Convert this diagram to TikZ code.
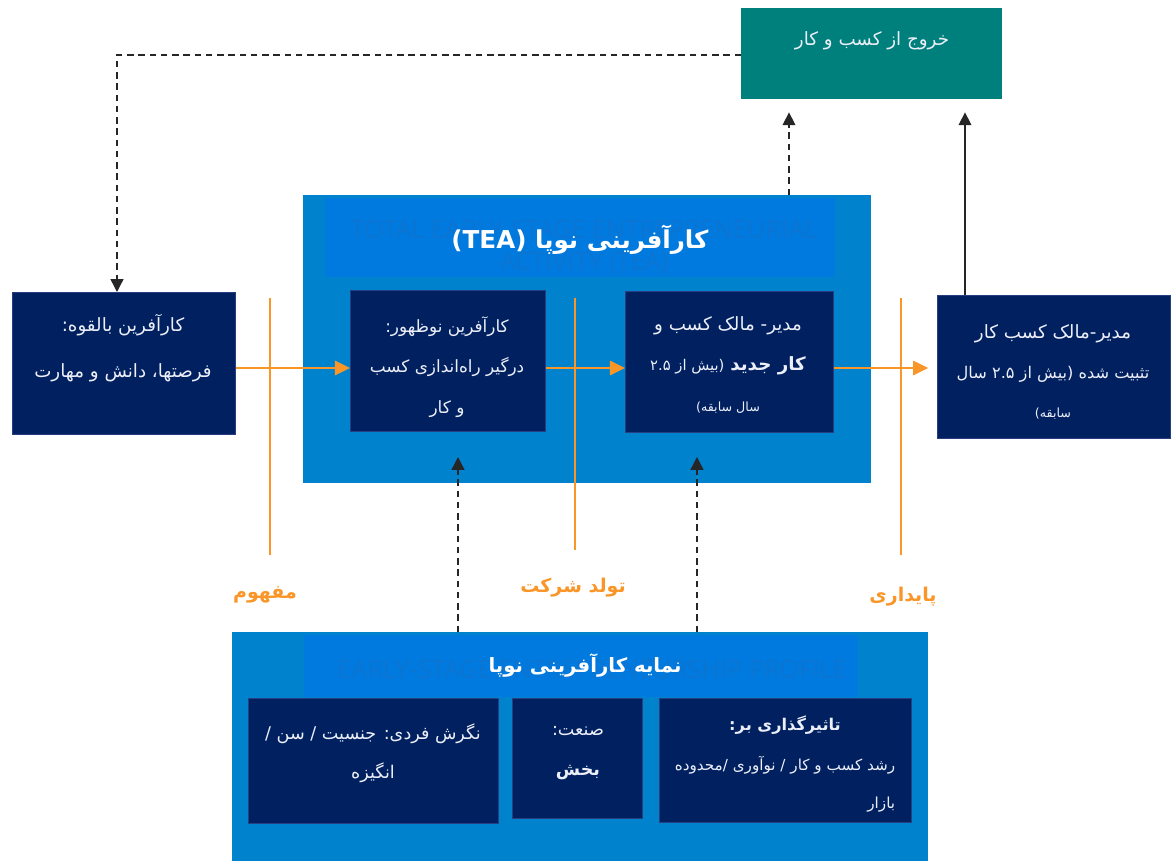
\documentclass[tikz,border=0pt]{standalone}
\usepackage{fontspec}
\setmainfont{DejaVu Sans}
\newfontfamily\fa[Script=Arabic]{DejaVu Sans}
\newfontfamily\wmfont{Open Sans}
\TeXXeTstate=1
\usetikzlibrary{arrows.meta}
\definecolor{navyc}{RGB}{0,32,96}
\definecolor{navyedge}{RGB}{40,62,130}
\definecolor{teac}{RGB}{0,130,204}
\definecolor{bandc}{RGB}{0,122,222}
\definecolor{wmc}{RGB}{12,116,210}
\definecolor{tealc}{RGB}{0,128,124}
\definecolor{orangec}{RGB}{250,150,40}
\definecolor{txtc}{RGB}{236,239,248}
\newcommand{\RL}[1]{{\fa\beginR #1\endR}}
\begin{document}
\begin{tikzpicture}[x=0.025cm,y=-0.025cm,
  boxbase/.style={inner sep=0pt, anchor=north west},
  navybox/.style={boxbase, fill=navyc, draw=navyedge, line width=0.6pt},
  teabox/.style={boxbase, fill=teac},
  bandbox/.style={boxbase, fill=bandc},
  exitbox/.style={boxbase, fill=tealc},
  btext/.style={text=txtc, align=center, inner sep=0pt, font=\fa\fontsize{13}{30}\selectfont},
  wmtext/.style={text=wmc, align=center, inner sep=0pt, font=\wmfont\fontsize{18}{23}\selectfont},
  olab/.style={text=orangec, inner sep=0pt, font=\fa\bfseries\fontsize{13.5}{16}\selectfont},
  ovline/.style={draw=orangec, line width=2pt},
  oarrow/.style={draw=orangec, line width=1.5pt, -{Triangle[length=0.38cm,width=0.36cm]}},
  darr/.style={draw=black!85, line width=1pt, dash pattern=on 4.5pt off 3.5pt, -{Triangle[length=0.32cm,width=0.32cm]}},
  sarr/.style={draw=black!85, line width=1pt, -{Triangle[length=0.32cm,width=0.32cm]}}
]
\useasboundingbox[fill=white] (0,0) rectangle (1172,861);

% TEA box
\node[teabox, minimum width=14.2cm, minimum height=7.2cm] (tea) at (303,195) {};
\node[bandbox, minimum width=12.75cm, minimum height=1.975cm] (teaband) at (325,198) {};
\node[wmtext] (teawm) at (584,247) {TOTAL EARLY-STAGE ENTREPRENEURIAL\\ACTIVITY (TEA)};
\node[text=white, inner sep=0pt, font=\fa\bfseries\fontsize{17.5}{22}\selectfont] (teaT) at (580,240) {\RL{کارآفرینی نوپا \beginL(TEA)\endL}};

% inner boxes
\node[navybox, minimum width=4.875cm, minimum height=3.525cm] (emerg) at (350,290) {};
\node[btext, font=\fa\fontsize{12}{29}\selectfont] (emergT) at (447,367) {\RL{کارآفرین نوظهور:}\\\RL{درگیر راه‌اندازی کسب}\\\RL{و کار}};
\node[navybox, minimum width=5.2cm, minimum height=3.525cm] (newown) at (625,291) {};
\node[btext, font=\fa\fontsize{13}{29}\selectfont] (newownT) at (728,365) {\RL{مدیر- مالک کسب و}\\\RL{\textbf{کار جدید} {\fontsize{10.5}{10}\selectfont (بیش از ۲.۵}}\\\RL{{\fontsize{9}{10}\selectfont سال سابقه)}}};

% orange middle line (over TEA box)
\draw[ovline] (575,298) -- (575,550);

% left box
\node[navybox, minimum width=5.575cm, minimum height=3.55cm] (pot) at (12,292) {};
\node[btext, font=\fa\fontsize{13}{33}\selectfont] (potT) at (123,348) {\RL{کارآفرین بالقوه:}\\\RL{فرصتها، دانش و مهارت}};

% right box
\node[navybox, minimum width=5.825cm, minimum height=3.575cm] (estab) at (937,295) {};
\node[btext, font=\fa\fontsize{13}{28}\selectfont] (estabT) at (1053,372) {\RL{مدیر-مالک کسب  کار}\\\RL{{\fontsize{11.5}{12}\selectfont تثبیت شده (بیش از ۲.۵ سال}}\\\RL{{\fontsize{9}{10}\selectfont سابقه)}}};

% exit box
\node[exitbox, minimum width=6.525cm, minimum height=2.275cm] (exit) at (741,8) {};
\node[btext, font=\fa\fontsize{13}{14}\selectfont] (exitT) at (872,41) {\RL{خروج از کسب و کار}};

% profile box
\node[teabox, minimum width=17.4cm, minimum height=5.75cm] (prof) at (232,632) {};
\node[bandbox, minimum width=13.85cm, minimum height=1.55cm] (profband) at (304,635) {};
\node[wmtext] (profwm) at (592,669) {EARLY-STAGE ENTREPRENEURSHIP PROFILE};
\node[text=white, inner sep=0pt, font=\fa\bfseries\fontsize{14}{18}\selectfont] (profT) at (585,665) {\RL{نمایه کارآفرینی نوپا}};

\node[navybox, minimum width=6.25cm, minimum height=3.125cm] (indiv) at (248,698) {};
\node[btext, font=\fa\fontsize{12.5}{28}\selectfont] (indivT) at (373,753) {\RL{نگرش فردی: جنسیت / سن /}\\\RL{انگیزه}};
\node[navybox, minimum width=3.25cm, minimum height=3.0cm] (indus) at (512,698) {};
\node[btext, font=\fa\fontsize{12.5}{28}\selectfont] (indusT) at (578,753) {\RL{صنعت:}\\\RL{\textbf{بخش}}};
\node[navybox, minimum width=6.3cm, minimum height=3.1cm] (impact) at (659,698) {};
\node[btext, font=\fa\bfseries\fontsize{11.5}{14}\selectfont] (impactT) at (785,725) {\RL{تاثیرگذاری بر:}};
\node[btext, align=right, font=\fa\fontsize{10.8}{27}\selectfont] (impactT2) at (785,784) {\RL{رشد کسب و کار / نوآوری /محدوده}\\\RL{بازار}};

% orange lines and arrows
\draw[ovline] (270,298) -- (270,555);
\draw[ovline] (901,298) -- (901,555);
\coordinate (hy) at (0,368);
\draw[oarrow] (pot.east |- hy) -- (emerg.west |- hy);
\draw[oarrow] (emerg.east |- hy) -- (newown.west |- hy);
\draw[oarrow, shorten >=0.22cm] (newown.east |- hy) -- (estab.west |- hy);

\node[olab] (lab1) at (265,595) {\RL{مفهوم}};
\node[olab] (lab2) at (573,588) {\RL{تولد شرکت}};
\node[olab] (lab3) at (903,597) {\RL{پایداری}};

% black connectors
\coordinate (t1) at (458,457);
\coordinate (t2) at (697,457);
\draw[darr] (prof.north -| t1) -- (t1);
\draw[darr] (prof.north -| t2) -- (t2);
\coordinate (xa) at (789,0);
\coordinate (xb) at (965,0);
\draw[darr, shorten >=0.32cm] (tea.north -| xa) -- (exit.south -| xa);
\draw[sarr, shorten >=0.32cm] (estab.north -| xb) -- (exit.south -| xb);
\coordinate (corner) at (117,55);
\draw[darr] (exit.west |- corner) -- (corner) -- (pot.north -| corner);
\end{tikzpicture}
\end{document}
